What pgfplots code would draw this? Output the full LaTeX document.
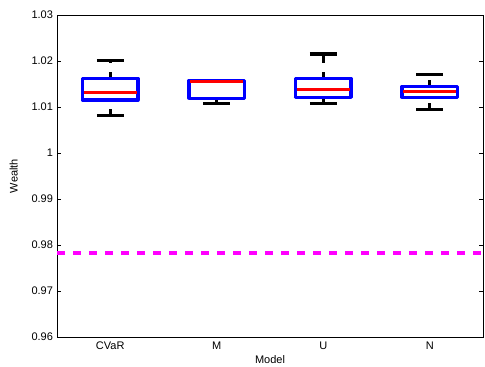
\documentclass[border=0pt]{standalone}
\usepackage{pgfplots}
\pgfplotsset{compat=1.18}
\usepackage{fontspec}
\setmainfont{Liberation Sans}
\definecolor{mmag}{RGB}{255,0,255}
\definecolor{mblue}{RGB}{0,0,255}
\definecolor{mred}{RGB}{255,0,0}
\begin{document}
\begin{tikzpicture}
\begin{axis}[
  scale only axis,
  width=426pt, height=322pt,
  xmin=0.5, xmax=4.5, ymin=0.96, ymax=1.03,
  axis line style={line width=0.9pt, black},
  xtick={1,2,3,4},
  xticklabels={CVaR,M,U,N},
  major x tick style={draw=none},
  ytick={0.96,0.97,0.98,0.99,1,1.01,1.02,1.03},
  yticklabels={0.96,0.97,0.98,0.99,1,1.01,1.02,1.03},
  tick align=inside,
  major tick length=4pt,
  tick style={line width=0.6pt, black},
  ticklabel style={font=\fontsize{11}{13}\selectfont},
  /pgf/number format/assume math mode=true,
  yticklabel style={xshift=-0.5pt},
  xticklabel style={yshift=-1.5pt},
  xlabel={Model}, ylabel={Wealth},
  label style={font=\fontsize{11}{13}\selectfont},
  xlabel style={yshift=1.5pt},
  ylabel style={yshift=7pt},
  clip=false,
]
% reference dashed line
\addplot[mmag, line width=3.4pt, dash pattern=on 7.5pt off 8.5pt] coordinates {(0.5,0.9783) (4.5,0.9783)};
% whiskers (lower: lw -> q1, upper: q3 -> uw)
\addplot[black, line width=3.3pt, dash pattern=on 6.6pt off 9pt] coordinates {(1,1.0081) (1,1.0115)};
\addplot[black, line width=3.3pt, dash pattern=on 6.6pt off 9pt] coordinates {(1,1.0162) (1,1.0201)};
\addplot[black, line width=3.3pt, dash pattern=on 6.6pt off 9pt] coordinates {(2,1.0107) (2,1.0119)};
\addplot[black, line width=3.3pt, dash pattern=on 6.6pt off 9pt] coordinates {(3,1.0107) (3,1.0121)};
\addplot[black, line width=3.3pt, dash pattern=on 6.6pt off 9pt] coordinates {(3,1.0162) (3,1.0215)};
\addplot[black, line width=3.3pt, dash pattern=on 6.6pt off 9pt] coordinates {(4,1.0095) (4,1.0121)};
\addplot[black, line width=3.3pt, dash pattern=on 6.6pt off 9pt] coordinates {(4,1.0145) (4,1.0170)};
% caps
\addplot[black, line width=3.3pt] coordinates {(0.875,1.0081) (1.125,1.0081)};
\addplot[black, line width=3.3pt] coordinates {(0.875,1.0201) (1.125,1.0201)};
\addplot[black, line width=3.3pt] coordinates {(1.875,1.0107) (2.125,1.0107)};
\addplot[black, line width=3.3pt] coordinates {(1.875,1.0158) (2.125,1.0158)};
\addplot[black, line width=3.3pt] coordinates {(2.875,1.0107) (3.125,1.0107)};
\addplot[black, line width=3.3pt] coordinates {(2.875,1.0215) (3.125,1.0215)};
\addplot[black, line width=3.3pt] coordinates {(3.875,1.0095) (4.125,1.0095)};
\addplot[black, line width=3.3pt] coordinates {(3.875,1.0170) (4.125,1.0170)};
% boxes
\addplot[mblue, line width=3.3pt, line join=round, line cap=round] coordinates {(0.74,1.0115) (1.26,1.0115) (1.26,1.0162) (0.74,1.0162) (0.74,1.0115)};
\addplot[mblue, line width=3.3pt, line join=round, line cap=round] coordinates {(1.74,1.0119) (2.26,1.0119) (2.26,1.0158) (1.74,1.0158) (1.74,1.0119)};
\addplot[mblue, line width=3.3pt, line join=round, line cap=round] coordinates {(2.74,1.0121) (3.26,1.0121) (3.26,1.0162) (2.74,1.0162) (2.74,1.0121)};
\addplot[mblue, line width=3.3pt, line join=round, line cap=round] coordinates {(3.74,1.0121) (4.26,1.0121) (4.26,1.0145) (3.74,1.0145) (3.74,1.0121)};
% medians
\addplot[mred, line width=3.3pt] coordinates {(0.75,1.0132) (1.25,1.0132)};
\addplot[mred, line width=3.3pt] coordinates {(1.75,1.0156) (2.25,1.0156)};
\addplot[mred, line width=3.3pt] coordinates {(2.75,1.01385) (3.25,1.01385)};
\addplot[mred, line width=3.3pt] coordinates {(3.75,1.0133) (4.25,1.0133)};
\end{axis}
\pgfresetboundingbox
\useasboundingbox ([shift={(-57pt,-29pt)}]current axis.south west) rectangle ([shift={(2pt,15pt)}]current axis.north east);
\end{tikzpicture}
\end{document}
